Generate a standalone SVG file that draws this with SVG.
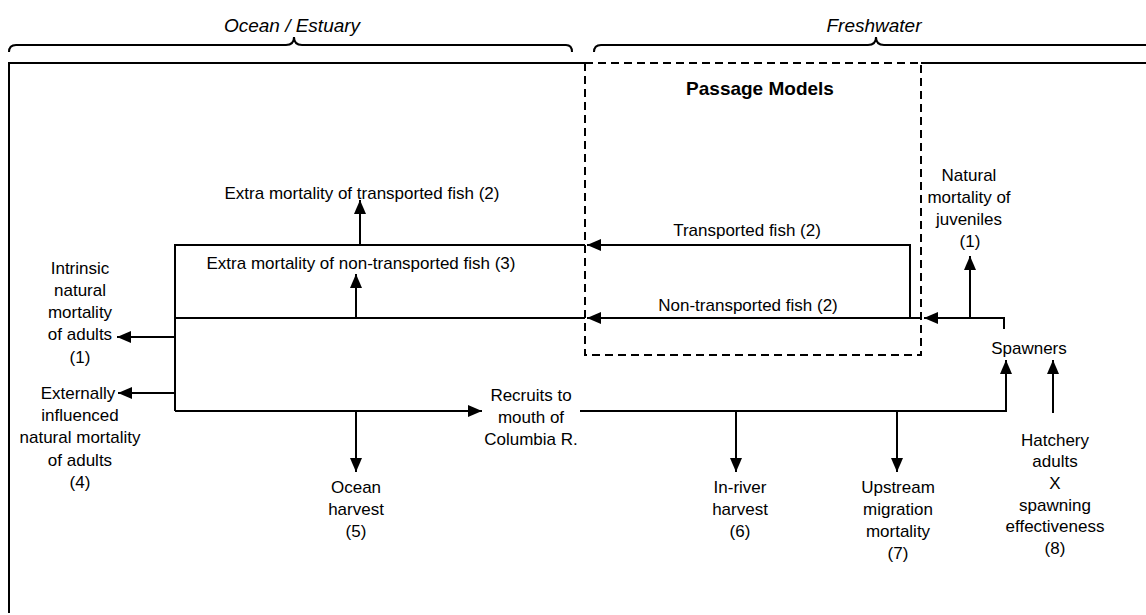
<svg xmlns="http://www.w3.org/2000/svg" width="1146" height="615" viewBox="0 0 1146 615">
<style>
text{font-family:"Liberation Sans",Arial,sans-serif;font-size:17px;fill:#000;text-anchor:middle}
.it{font-style:italic;font-size:19px}
.b{font-weight:bold;font-size:19px}
.ln{stroke:#000;stroke-width:2;fill:none}
.ds{stroke:#000;stroke-width:2;fill:none;stroke-dasharray:8,5}
</style>
<defs>
<marker id="ah" markerWidth="14" markerHeight="12" refX="14" refY="6" orient="auto" markerUnits="userSpaceOnUse">
<path d="M0,0 L14,6 L0,12 Z" fill="#000"/>
</marker>
</defs>
<rect width="1146" height="615" fill="#fff"/>
<g id="frame">
<path class="ln" d="M9,52 Q9,45 16,45 L286,45 Q294,45 294,37 Q294,45 302,45 L566,45 Q572,45 572,52"/>
<path class="ln" d="M594,52 Q594,45 601,45 L868,45 Q876,45 876,37 Q876,45 884,45 L1146,45"/>
<path class="ln" d="M9,613 L9,63 L585,63"/>
<path class="ln" d="M921,63 L1146,63"/>
</g>
<g id="passage-models">
<path class="ds" d="M585,63 L921,63 L921,355 L585,355 Z"/>
<text class="b" x="760" y="95">Passage Models</text>
</g>
<g id="connectors">
<path class="ln" d="M910,318 L910,245 L587,245" marker-end="url(#ah)"/>
<path class="ln" d="M585,245 L175,245 L175,411"/>
<path class="ln" d="M922,318 L587,318" marker-end="url(#ah)"/>
<path class="ln" d="M585,318 L175,318"/>
<path class="ln" d="M1004,329 L1004,318 L924,318" marker-end="url(#ah)"/>
<path class="ln" d="M970,318 L970,256" marker-end="url(#ah)"/>
<path class="ln" d="M360,245 L360,200" marker-end="url(#ah)"/>
<path class="ln" d="M356,318 L356,274" marker-end="url(#ah)"/>
<path class="ln" d="M175,337 L117,337" marker-end="url(#ah)"/>
<path class="ln" d="M175,393 L118,393" marker-end="url(#ah)"/>
<path class="ln" d="M175,411 L482,411" marker-end="url(#ah)"/>
<path class="ln" d="M356,411 L356,472" marker-end="url(#ah)"/>
<path class="ln" d="M580,411 L1006,411 L1006,360" marker-end="url(#ah)"/>
<path class="ln" d="M736,411 L736,472" marker-end="url(#ah)"/>
<path class="ln" d="M897,411 L897,472" marker-end="url(#ah)"/>
<path class="ln" d="M1053,413 L1053,360" marker-end="url(#ah)"/>
</g>
<g id="region-labels">
<text class="it" x="292" y="32">Ocean / Estuary</text>
<text class="it" x="874" y="32">Freshwater</text>
</g>
<g id="extra-transported"><text x="362" y="199">Extra mortality of transported fish (2)</text></g>
<g id="extra-nontransported"><text x="361" y="269">Extra mortality of non-transported fish (3)</text></g>
<g id="transported"><text x="747" y="236">Transported fish (2)</text></g>
<g id="nontransported"><text x="748" y="311">Non-transported fish (2)</text></g>
<g id="intrinsic">
<text x="80" y="274">Intrinsic</text><text x="80" y="296">natural</text><text x="80" y="318">mortality</text><text x="80" y="340">of adults</text><text x="80" y="363">(1)</text>
</g>
<g id="external">
<text x="78" y="399">Externally</text><text x="80" y="421">influenced</text><text x="80" y="443">natural mortality</text><text x="80" y="466">of adults</text><text x="80" y="488">(4)</text>
</g>
<g id="juveniles">
<text x="969" y="181">Natural</text><text x="969" y="203">mortality of</text><text x="969" y="225">juveniles</text><text x="970" y="247">(1)</text>
</g>
<g id="spawners"><text x="1029" y="354">Spawners</text></g>
<g id="recruits">
<text x="531" y="401">Recruits to</text><text x="531" y="423">mouth of</text><text x="531" y="445">Columbia R.</text>
</g>
<g id="ocean-harvest">
<text x="356" y="493">Ocean</text><text x="356" y="515">harvest</text><text x="356" y="537">(5)</text>
</g>
<g id="inriver-harvest">
<text x="740" y="493">In-river</text><text x="740" y="515">harvest</text><text x="740" y="537">(6)</text>
</g>
<g id="upstream">
<text x="898" y="493">Upstream</text><text x="898" y="515">migration</text><text x="898" y="537">mortality</text><text x="898" y="559">(7)</text>
</g>
<g id="hatchery">
<text x="1055" y="446">Hatchery</text><text x="1055" y="467">adults</text><text x="1055" y="489">X</text><text x="1055" y="511">spawning</text><text x="1055" y="532">effectiveness</text><text x="1055" y="554">(8)</text>
</g>
</svg>
